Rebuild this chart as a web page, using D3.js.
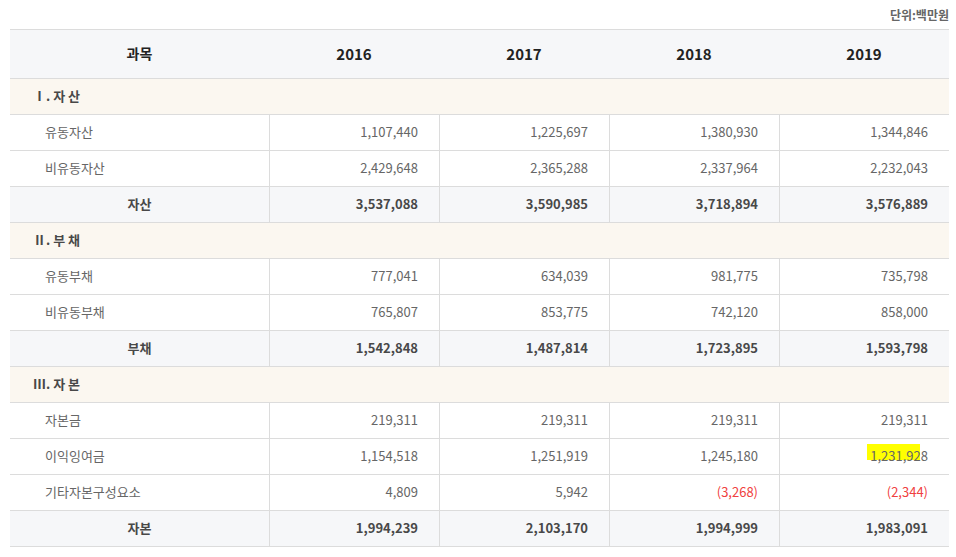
<!DOCTYPE html>
<html>
<head>
<meta charset="utf-8">
<script src="https://cdn.jsdelivr.net/npm/d3@7"></script>
<style>
  html, body { margin: 0; padding: 0; background: #fff; }
  svg { display: block; font-family: "Noto Sans CJK KR", "Noto Sans", sans-serif; }
</style>
</head>
<body>
<div id="wrap"></div>
<script>
// data
const years = ["2016", "2017", "2018", "2019"];
const unitLabel = "단위:백만원";
const headLabel = "과목";

const currentAssets = [1107440, 1225697, 1380930, 1344846];
const nonCurrentAssets = [2429648, 2365288, 2337964, 2232043];
const totalAssets = [3537088, 3590985, 3718894, 3576889];

const currentLiab = [777041, 634039, 981775, 735798];
const nonCurrentLiab = [765807, 853775, 742120, 858000];
const totalLiab = [1542848, 1487814, 1723895, 1593798];

const capitalStock = [219311, 219311, 219311, 219311];
const retainedEarnings = [1154518, 1251919, 1245180, 1231928];
const otherEquity = [4809, 5942, -3268, -2344];
const totalEquity = [1994239, 2103170, 1994999, 1983091];

// row order: section / item / total
const rows = [
  { type: "section", label: "Ⅰ. 자 산" },
  { type: "item", label: "유동자산", values: currentAssets },
  { type: "item", label: "비유동자산", values: nonCurrentAssets },
  { type: "total", label: "자산", values: totalAssets },
  { type: "section", label: "Ⅱ. 부 채" },
  { type: "item", label: "유동부채", values: currentLiab },
  { type: "item", label: "비유동부채", values: nonCurrentLiab },
  { type: "total", label: "부채", values: totalLiab },
  { type: "section", label: "Ⅲ. 자 본" },
  { type: "item", label: "자본금", values: capitalStock },
  { type: "item", label: "이익잉여금", values: retainedEarnings, mark: 3 },
  { type: "item", label: "기타자본구성요소", values: otherEquity },
  { type: "total", label: "자본", values: totalEquity }
];

const width = 956, height = 557;
const left = 10, right = 949, firstCol = 269;
const headTop = 29, headH = 49, rowH = 36;

const svg = d3.select("#wrap").append("svg")
  .attr("width", width)
  .attr("height", height);

const xScale = d3.scaleBand()
  .domain(years)
  .range([firstCol, right]);

const yScale = d3.scaleBand()
  .domain(d3.range(rows.length))
  .range([headTop + headH, headTop + headH + rowH * rows.length]);

const fmt = d3.format(",");
const fmtVal = v => v < 0 ? "(" + fmt(-v) + ")" : fmt(v);

const fills = { section: "#fbf7f0", item: "#ffffff", total: "#f6f7f9" };
const lineColor = "#dcdcdc";
const textY = rowH / 2 - 0.5;

// unit label
svg.append("text")
  .attr("x", right)
  .attr("y", 14)
  .attr("text-anchor", "end")
  .attr("dominant-baseline", "central")
  .attr("font-size", 12)
  .attr("font-weight", "bold")
  .attr("fill", "#666")
  .text(unitLabel);

// header
svg.append("rect")
  .attr("x", left).attr("y", headTop)
  .attr("width", right - left).attr("height", headH)
  .attr("fill", "#f6f7f9");

svg.append("text")
  .attr("x", (left + firstCol) / 2)
  .attr("y", headTop + headH / 2 - 0.5)
  .attr("text-anchor", "middle")
  .attr("dominant-baseline", "central")
  .attr("font-size", 14)
  .attr("font-weight", "bold")
  .attr("fill", "#222")
  .text(headLabel);

svg.selectAll(".year")
  .data(years)
  .enter()
  .append("text")
  .attr("class", "year")
  .attr("x", d => xScale(d) + xScale.bandwidth() / 2)
  .attr("y", headTop + headH / 2 - 0.5)
  .attr("text-anchor", "middle")
  .attr("dominant-baseline", "central")
  .attr("font-size", 15)
  .attr("font-weight", "bold")
  .attr("fill", "#222")
  .text(d => d);

// body rows
const rowG = svg.selectAll(".row")
  .data(rows)
  .enter()
  .append("g")
  .attr("class", "row")
  .attr("transform", (d, i) => `translate(0,${yScale(i)})`);

rowG.append("rect")
  .attr("x", left)
  .attr("width", right - left)
  .attr("height", rowH)
  .attr("fill", d => fills[d.type]);

// labels
rowG.append("text")
  .attr("x", d => d.type === "section" ? 33 : d.type === "item" ? 45 : (left + firstCol) / 2)
  .attr("y", textY)
  .attr("text-anchor", d => d.type === "total" ? "middle" : "start")
  .attr("dominant-baseline", "central")
  .attr("font-size", 13)
  .attr("font-weight", d => d.type === "item" ? "normal" : "bold")
  .attr("fill", d => d.type === "item" ? "#666" : "#484848")
  .text(d => d.label);

// highlight behind marked value
rowG.filter(d => d.mark != null)
  .append("rect")
  .attr("x", d => xScale(years[d.mark]) + 88)
  .attr("y", 6)
  .attr("width", 53)
  .attr("height", 16)
  .attr("fill", "#ffff00");

// values
rowG.filter(d => d.values)
  .selectAll(".val")
  .data(d => d.values.map((v, i) => ({ v, year: years[i], type: d.type })))
  .enter()
  .append("text")
  .attr("class", "val")
  .attr("x", d => xScale(d.year) + xScale.bandwidth() - 21)
  .attr("y", textY)
  .attr("text-anchor", "end")
  .attr("dominant-baseline", "central")
  .attr("font-size", 13)
  .attr("font-weight", d => d.type === "total" ? "bold" : "normal")
  .attr("fill", d => d.v < 0 ? "#f04040" : d.type === "total" ? "#484848" : "#666")
  .text(d => fmtVal(d.v));

// horizontal lines
const hLines = [headTop, headTop + headH].concat(rows.map((d, i) => yScale(i) + rowH));
svg.selectAll(".hline")
  .data(hLines)
  .enter()
  .append("line")
  .attr("class", "hline")
  .attr("x1", left).attr("x2", right)
  .attr("y1", d => d + 0.5).attr("y2", d => d + 0.5)
  .attr("stroke", lineColor);

// vertical lines in item / total rows
const colEdges = [firstCol].concat(years.slice(1).map(y => xScale(y)));
rowG.filter(d => d.type !== "section")
  .selectAll(".vline")
  .data(colEdges)
  .enter()
  .append("line")
  .attr("class", "vline")
  .attr("x1", d => d + 0.5).attr("x2", d => d + 0.5)
  .attr("y1", 0).attr("y2", rowH)
  .attr("stroke", lineColor);
</script>
</body>
</html>
